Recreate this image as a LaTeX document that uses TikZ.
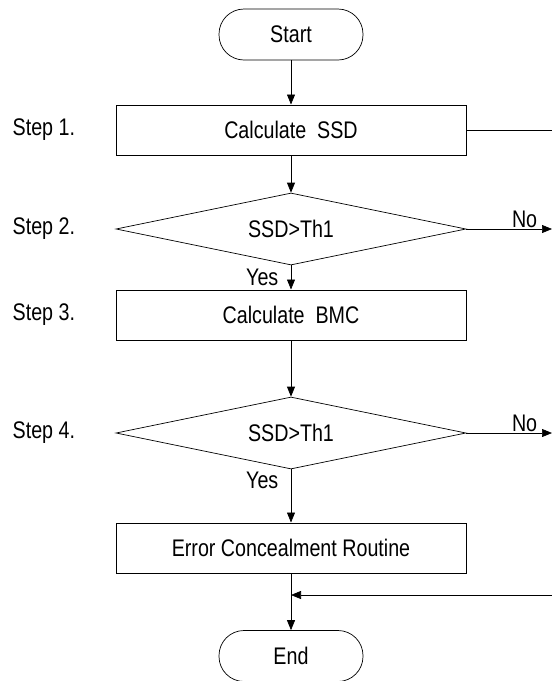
\documentclass[tikz,border=0pt]{standalone}
\usepackage{fontspec}
\setmainfont[FakeStretch=0.82]{Liberation Sans}
\usetikzlibrary{positioning, shapes.geometric, arrows.meta}

\begin{document}
\begin{tikzpicture}[
    x=1pt, y=-1pt,
    font=\fontsize{24}{28}\selectfont,
    line width=0.7pt,
    box/.style={%
      draw,
      rectangle,
      line width=1pt,
      minimum width=350pt,
      minimum height=50pt,
    },
    term/.style={%
      draw,
      rectangle,
      rounded corners=25pt,
      minimum width=144pt,
      minimum height=51pt,
    },
    test/.style={%
      draw,
      diamond,
      aspect=4.86,
      inner sep=0pt,
      minimum width=350pt,
      minimum height=72pt,
    },
    steplabel/.style={anchor=west},
    arr/.style={-{Triangle[length=10pt,width=8pt]}},
  ]
    \useasboundingbox (0,0) rectangle (552,681);

    \node [term] (start) at (291,34.5) {Start};
    \node [box] (ssd) at (291,130) {Calculate~~SSD};
    \node [test] (test1) at (291,229) {SSD>Th1};
    \node [box] (bmc) at (291,315) {Calculate~~BMC};
    \node [test] (test2) at (291,433) {SSD>Th1};
    \node [box] (conceal) at (291,548) {Error Concealment Routine};
    \node [term] (end) at (291,656) {End};

    \node [steplabel] (s1) at (9,130) {Step 1.};
    \node [steplabel] (s2) at (9,229) {Step 2.};
    \node [steplabel] (s3) at (9,315) {Step 3.};
    \node [steplabel] (s4) at (9,433) {Step 4.};

    \coordinate (out0) at (552,130);
    \coordinate (out1) at (552,229);
    \coordinate (out2) at (552,433);
    \coordinate (in0) at (552,595);

    \draw [arr] (start) -- (ssd);
    \draw [arr] (ssd) -- (test1);
    \draw [arr] (test1) -- (bmc) node [left=9pt,pos=0.48] (yes1) {Yes};
    \draw [arr] (bmc) -- (test2);
    \draw [arr] (test2) -- (conceal) node [left=9pt,pos=0.2] (yes2) {Yes};
    \draw [arr] (conceal) -- (end);

    \draw (ssd.east) -- (out0);
    \draw [arr] (test1.east) -- (out1) node [above,pos=0.68,inner sep=1pt] (no1) {No};
    \draw [arr] (test2.east) -- (out2) node [above,pos=0.68,inner sep=1pt] (no2) {No};
    \draw [arr] (in0) -- (conceal.south |- in0);
\end{tikzpicture}
\end{document}
